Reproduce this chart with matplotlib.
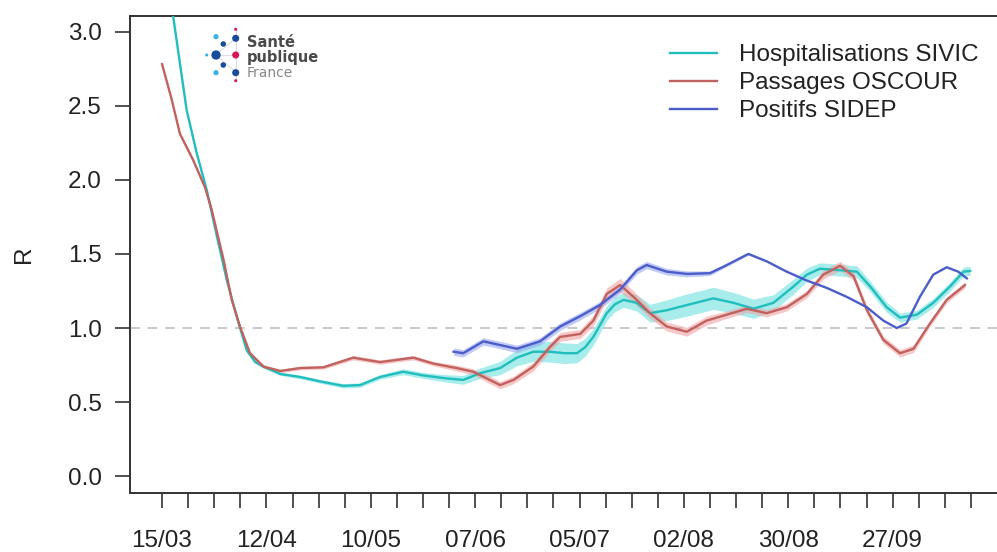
import numpy as np
import pandas as pd
import matplotlib
matplotlib.use("Agg")
import matplotlib.pyplot as plt

plt.rcParams['font.family'] = ['Liberation Sans', 'DejaVu Sans']

# Days since 15/03/2020 and estimated R per indicator
base = pd.Timestamp("2020-03-15")

sivic_days = [0, 3, 6.6, 9.3, 12, 14.7, 17.4, 20, 22.7, 25, 27.2, 31.7, 37, 42.4, 48.6, 53.1,
              58.5, 64.7, 70.1, 76.3, 80.8, 85.3, 90.7, 95.2, 99.6, 104, 108, 111.3, 113.5,
              115.7, 119.3, 121.5, 123.8, 127.3, 130.9, 135.4, 140.8, 147.9, 153.3, 158.7,
              164, 169.4, 173, 176.5, 181.9, 186.4, 190, 194.4, 198, 202.5, 206.9, 211.4,
              215, 216.8]
sivic_r = [3.60, 3.10, 2.47, 2.18, 1.93, 1.62, 1.32, 1.08, 0.85, 0.77, 0.74, 0.69, 0.67, 0.64,
           0.61, 0.615, 0.67, 0.705, 0.68, 0.66, 0.65, 0.695, 0.73, 0.80, 0.84, 0.84, 0.83,
           0.83, 0.87, 0.94, 1.10, 1.16, 1.19, 1.17, 1.10, 1.12, 1.155, 1.20, 1.17, 1.13,
           1.17, 1.28, 1.36, 1.40, 1.39, 1.38, 1.28, 1.14, 1.07, 1.09, 1.17, 1.28, 1.38, 1.385]
sivic_ci = [0.0, 0.0, 0.0, 0.0, 0.0, 0.0, 0.005, 0.005, 0.01, 0.01, 0.01, 0.01, 0.012, 0.012,
            0.015, 0.015, 0.015, 0.02, 0.02, 0.025, 0.03, 0.035, 0.045, 0.055, 0.065, 0.07,
            0.07, 0.065, 0.06, 0.055, 0.05, 0.05, 0.05, 0.055, 0.06, 0.07, 0.075, 0.075,
            0.07, 0.065, 0.055, 0.05, 0.045, 0.04, 0.04, 0.04, 0.035, 0.035, 0.03, 0.03,
            0.03, 0.03, 0.03, 0.03]

oscour_days = [0, 2.5, 4.8, 8.4, 11.5, 13.3, 16.5, 18.7, 20.9, 23.6, 27.2, 31.7, 37, 43.3,
               51.3, 58.5, 67.4, 72.8, 79, 83.5, 87.1, 90.7, 94.3, 99.6, 104, 106.8, 112.2,
               115.7, 119.3, 122.9, 126.5, 130.9, 135.4, 140.8, 146.1, 151.5, 156.9, 162.2,
               167.6, 173, 177.4, 181.9, 185.5, 189.1, 193.5, 198, 201.6, 206, 210.5, 215.4]
oscour_r = [2.78, 2.55, 2.31, 2.13, 1.95, 1.80, 1.46, 1.19, 1.01, 0.83, 0.74, 0.71, 0.73,
            0.735, 0.80, 0.77, 0.80, 0.76, 0.73, 0.705, 0.66, 0.615, 0.65, 0.74, 0.87, 0.94,
            0.96, 1.05, 1.23, 1.29, 1.21, 1.10, 1.01, 0.975, 1.05, 1.09, 1.13, 1.10, 1.14,
            1.23, 1.36, 1.42, 1.35, 1.12, 0.92, 0.83, 0.86, 1.03, 1.19, 1.29]
oscour_ci = [0.01, 0.01, 0.01, 0.01, 0.01, 0.01, 0.01, 0.01, 0.01, 0.01, 0.012, 0.012, 0.012,
             0.012, 0.015, 0.015, 0.015, 0.015, 0.02, 0.02, 0.025, 0.025, 0.025, 0.03, 0.03,
             0.03, 0.03, 0.035, 0.04, 0.045, 0.04, 0.035, 0.03, 0.03, 0.03, 0.025, 0.025,
             0.025, 0.025, 0.025, 0.03, 0.03, 0.03, 0.025, 0.025, 0.025, 0.025, 0.02, 0.02,
             0.02]

sidep_days = [78.2, 80.8, 86.2, 90.7, 95.2, 101.4, 106.8, 112.2, 117.5, 122.9, 127.4, 130,
              135.4, 140.8, 147, 151.5, 157.3, 162.2, 167.6, 173, 178.4, 183.7, 189.1, 193.5,
              197.1, 199.7, 203.3, 206.9, 210.5, 213.6, 215.9]
sidep_r = [0.84, 0.83, 0.91, 0.885, 0.86, 0.91, 1.01, 1.08, 1.155, 1.26, 1.39, 1.425, 1.38,
           1.365, 1.37, 1.425, 1.50, 1.45, 1.38, 1.32, 1.27, 1.21, 1.14, 1.05, 1.00, 1.03,
           1.21, 1.36, 1.41, 1.38, 1.335]
sidep_ci = [0.025, 0.025, 0.025, 0.025, 0.025, 0.025, 0.025, 0.025, 0.025, 0.025, 0.025,
            0.025, 0.022, 0.02, 0.015, 0.01, 0.008, 0.005, 0.0, 0.0, 0.0, 0.0, 0.0, 0.0, 0.0,
            0.0, 0.0, 0.0, 0.0, 0.0, 0.0]

labels = ["Hospitalisations SIVIC", "Passages OSCOUR", "Positifs SIDEP"]
line_colors = ["#22bdbd", "#c0625e", "#4b5dc9"]
band_colors = ["#6fe0e0", "#f2a3a3", "#98a6f2"]


def to_dates(days):
    return base + pd.to_timedelta(np.array(days), unit="D")


fig = plt.figure(figsize=(9.97, 5.52), dpi=100)
ax = fig.add_axes([130 / 997, 1 - 493 / 552, 867 / 997, 477 / 552])

series = [(sivic_days, sivic_r, sivic_ci), (oscour_days, oscour_r, oscour_ci),
          (sidep_days, sidep_r, sidep_ci)]

ax.axhline(1.0, color="#c8c8c8", lw=1.4, ls=(0, (5, 4)), zorder=1)

for (d, r, ci), lab, lc, bc in zip(series, labels, line_colors, band_colors):
    x = to_dates(d)
    r = np.array(r)
    ci = np.array(ci)
    ax.fill_between(x, r - ci, r + ci, color=bc, alpha=0.6, lw=0, zorder=2)
    ax.plot(x, r, color=lc, lw=1.7, label=lab, zorder=3, solid_joinstyle="round")

# axes
ax.set_xlim(base - pd.Timedelta(days=8.6), base + pd.Timedelta(days=224.0))
ax.set_ylim(-0.113, 3.105)
ax.set_yticks(np.arange(0, 3.01, 0.5))
ax.set_yticklabels([f"{v:.1f}" for v in np.arange(0, 3.01, 0.5)])

tick_dates = to_dates(np.arange(0, 218, 7))
ax.set_xticks(tick_dates)
ax.set_xticklabels([t.strftime("%d/%m") if i % 4 == 0 else "" for i, t in enumerate(tick_dates)])

ax.tick_params(axis="both", labelsize=17.5, colors="#333333", width=1.2, length=10.5,
               labelcolor="#222222")
ax.tick_params(axis="x", pad=16)
ax.tick_params(axis="y", pad=10)
fig.text(24 / 997, 1 - 254 / 552, "R", fontsize=17.5, color="#222222", rotation=90,
         ha="center", va="center")

for s in ["left", "bottom", "top"]:
    ax.spines[s].set_color("#333333")
    ax.spines[s].set_linewidth(1.4)
ax.spines["right"].set_visible(False)

leg = ax.legend(loc="upper left", bbox_to_anchor=(670 / 997, 1 - 44 / 552),
                bbox_transform=fig.transFigure, frameon=False, fontsize=17.5,
                handlelength=1.93, handletextpad=0.9, labelspacing=0.25,
                borderpad=0, borderaxespad=0)
for t in leg.get_texts():
    t.set_color("#222222")

# Santé publique France logo
lax = fig.add_axes([0, 0, 1, 1])
lax.set_xlim(0, 997)
lax.set_ylim(552, 0)
lax.axis("off")
lax.plot([216, 235.7], [55, 55], color="#dddddd", lw=0.8)
lax.plot([235.7, 235.7], [30, 80], color="#dddddd", lw=0.8)
lax.plot([216, 235.7], [55, 38], color="#dddddd", lw=0.8)
lax.plot([216, 235.7], [55, 72], color="#dddddd", lw=0.8)
dot_x = [216, 223.3, 235.7, 235.7, 206.7, 216, 235.7, 223.3, 216, 235.7, 235.7]
dot_y = [36.7, 44, 38.3, 29.3, 55, 55, 55, 65, 72.7, 72.7, 80.7]
dot_s = [14, 16, 26, 5, 5, 45, 26, 16, 14, 26, 5]
dot_c = ["#36b2e2", "#1a4c9c", "#1a4c9c", "#d8175a", "#36b2e2", "#1a4c9c", "#d8175a",
         "#1a4c9c", "#36b2e2", "#1a4c9c", "#d8175a"]
lax.scatter(dot_x, dot_y, s=dot_s, c=dot_c, lw=0, zorder=5)
fig.text(247 / 997, 1 - 47 / 552, "Santé", fontsize=10.5, fontweight="bold",
         color="#4a4a4a", family="DejaVu Sans")
fig.text(247 / 997, 1 - 62 / 552, "publique", fontsize=10.5, fontweight="bold",
         color="#4a4a4a", family="DejaVu Sans")
fig.text(247 / 997, 1 - 77 / 552, "France", fontsize=10, color="#888888",
         family="DejaVu Sans")

fig.savefig("out.png", dpi=100)
